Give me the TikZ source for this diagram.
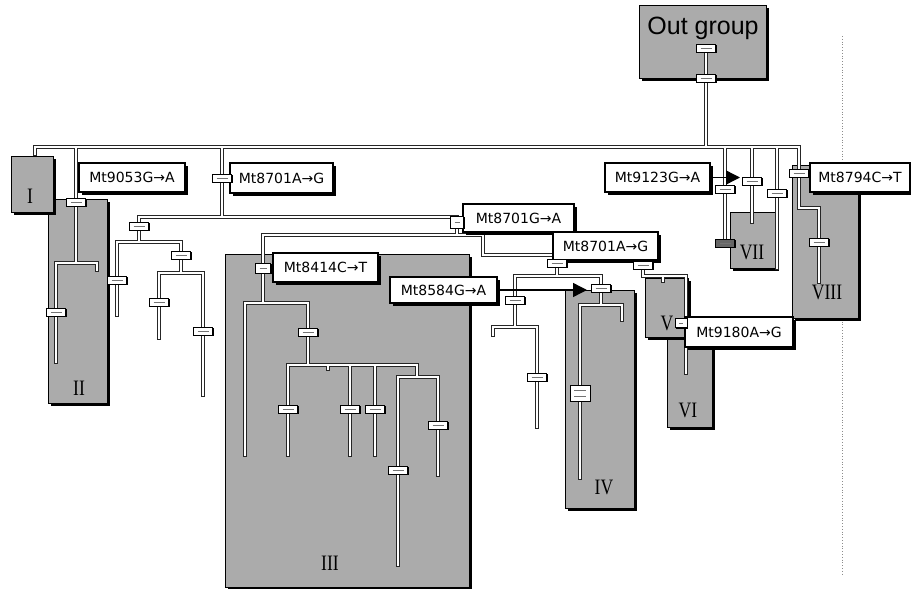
\documentclass[tikz,border=0pt]{standalone}
\usepackage{fontspec}
\setmainfont{Liberation Serif}
\newfontfamily\labfont{DejaVu Sans}
\newfontfamily\ogfont{Liberation Sans}
\usetikzlibrary{shadows,arrows.meta}
\newcommand\romanlab[1]{\scalebox{0.8}[1]{#1}}
\newcommand\treepipes[1]{%
 \draw[#1] (35,154) -- (35,147) -- (799,147) -- (tM) -- (799,208) -- (819,208) -- (tM2) -- (819,282);
 \draw[#1] (tOG1) -- (tOG2) -- (706,147);
 \draw[#1] (76,147) -- (tII1) -- (76,263);
 \draw[#1] (56,362) -- (tII2) -- (56,263) -- (97,263) -- (97,270);
 \draw[#1] (222,147) -- (tA) -- (222,217);
 \draw[#1] (139,217) -- (457,217) -- (tC) -- (457,235) -- (263,235) -- (tD) -- (263,303);
 \draw[#1] (457,235) -- (483,235) -- (483,255) -- (643,255) -- (tK) -- (643,276) -- (686,276) -- (686,373);
 \draw[#1] (663,276) -- (663,281);
 \draw[#1] (557,255) -- (tH) -- (557,276);
 \draw[#1] (515,276) -- (601,276);
 \draw[#1] (515,276) -- (tI) -- (515,327);
 \draw[#1] (493,335) -- (493,327) -- (537,327) -- (tI2) -- (537,427);
 \draw[#1] (601,276) -- (tJ) -- (601,305);
 \draw[#1] (622,320) -- (622,305) -- (580,305) -- (tJ2) -- (580,478);
 \draw[#1] (139,217) -- (tB) -- (139,242);
 \draw[#1] (117,315) -- (tB1) -- (117,242) -- (181,242) -- (tB2) -- (181,273);
 \draw[#1] (159,338) -- (tB3) -- (159,273) -- (203,273) -- (tB4) -- (203,395);
 \draw[#1] (245,455) -- (245,303) -- (308,303) -- (tE) -- (308,365);
 \draw[#1] (288,455) -- (tF1) -- (288,365) -- (417,365) -- (417,377);
 \draw[#1] (328,365) -- (328,369);
 \draw[#1] (350,365) -- (tF2) -- (350,455);
 \draw[#1] (375,365) -- (tF3) -- (375,455);
 \draw[#1] (398,565) -- (tG2) -- (398,377) -- (438,377) -- (tG1) -- (438,475);
 \draw[#1] (725,147) -- (tL1) -- (tL4);
 \draw[#1] (752,147) -- (tL2) -- (752,222);
 \draw[#1] (777,147) -- (tL3) -- (777,268);
}
\begin{document}
\begin{tikzpicture}[x=1pt,y=-1pt,
  group/.style={draw=black, line width=0.8pt, fill=black!33, inner sep=0pt, anchor=north west,
    drop shadow={shadow xshift=3pt, shadow yshift=-3pt, opacity=1, fill=black}},
  mut/.style={draw=black, line width=1.1pt, fill=white, inner sep=0pt,
    font=\labfont\fontsize{14}{16}\selectfont,
    drop shadow={shadow xshift=3pt, shadow yshift=-3pt, opacity=1, fill=black}},
  tag/.style={draw=black, line width=0.7pt, fill=white, inner sep=0pt,
    minimum width=19pt, minimum height=8pt,
    drop shadow={shadow xshift=1.3pt, shadow yshift=-1.3pt, opacity=1, fill=black},
    path picture={\draw[black!55, line width=0.9pt] ([xshift=4pt]path picture bounding box.west) -- ([xshift=-4pt]path picture bounding box.east);}},
  pipeout/.style={line width=4pt, draw=black!85, line cap=rect, line join=miter},
  pipein/.style={line width=1.5pt, draw=white, line cap=rect, line join=miter},
  roman/.style={font=\fontsize{22}{22}\selectfont, text=black, inner sep=0pt},
  arrowline/.style={line width=1.4pt, draw=black, -{Triangle[length=14pt,width=14pt]}}
]
\useasboundingbox (0,0) rectangle (911,589);
% faint dotted page line
\draw[dotted, black!45, line width=0.8pt] (842,36) coordinate (dtop) -- (842,574) coordinate (dbot);

% shaded groups
\node[group, minimum width=127pt, minimum height=73pt] (OG) at (639,5) {};
\node[group, minimum width=59pt, minimum height=204pt] (II) at (48,199) {};
\node[group, minimum width=42pt, minimum height=56pt] (I) at (11,156) {};
\node[group, minimum width=244pt, minimum height=333pt] (III) at (225,254) {};
\node[group, minimum width=69pt, minimum height=218pt] (IV) at (565,290) {};
\node[group, minimum width=45pt, minimum height=90pt] (VI) at (667,337) {};
\node[group, minimum width=43pt, minimum height=59pt] (V) at (645,278) {};
\node[group, minimum width=46pt, minimum height=56pt] (VII) at (730,212) {};
\node[group, minimum width=66pt, minimum height=153pt] (VIII) at (792,165) {};

% group labels
\node[font=\ogfont\fontsize{25}{27}\selectfont, inner sep=0pt] (ogtext) at (703,28) {Out group};
\node[roman] (nI) at (30,196) {\romanlab{I}};
\node[roman] (nII) at (79,388) {\romanlab{II}};
\node[roman] (nIII) at (330,563) {\romanlab{III}};
\node[roman] (nIV) at (604,487) {\romanlab{IV}};
\node[roman] (nV) at (667,323) {\romanlab{V}};
\node[roman] (nVI) at (688,410) {\romanlab{VI}};
\node[roman] (nVII) at (752,252) {\romanlab{VII}};
\node[roman] (nVIII) at (827,292) {\romanlab{VIII}};

% tag positions
\coordinate (tOG1) at (706,48);
\coordinate (tOG2) at (706,78);
\coordinate (tII1) at (76,202);
\coordinate (tII2) at (56,312);
\coordinate (tA) at (222,178);
\coordinate (tB) at (139,226);
\coordinate (tB1) at (117,280);
\coordinate (tB2) at (181,255);
\coordinate (tB3) at (159,302);
\coordinate (tB4) at (203,331);
\coordinate (tC) at (457,222);
\coordinate (tD) at (263,268);
\coordinate (tE) at (308,332);
\coordinate (tF1) at (288,409);
\coordinate (tF2) at (350,409);
\coordinate (tF3) at (375,409);
\coordinate (tG1) at (438,425);
\coordinate (tG2) at (398,470);
\coordinate (tH) at (557,263);
\coordinate (tI) at (515,300);
\coordinate (tI2) at (537,377);
\coordinate (tJ) at (601,288);
\coordinate (tJ2) at (580,393);
\coordinate (tK) at (643,265);
\coordinate (tK2) at (681,323);
\coordinate (tL1) at (725,189);
\coordinate (tL2) at (752,181);
\coordinate (tL3) at (777,193);
\coordinate (tL4) at (725,243);
\coordinate (tM) at (799,173);
\coordinate (tM2) at (819,242);

% tree branches (outline, then white core)
\treepipes{pipeout}
\treepipes{pipein}

% mutation boxes
\node[mut, minimum width=106pt, minimum height=29pt] (m9053) at (132,177.5) {Mt9053G→A};
\node[mut, minimum width=103pt, minimum height=30pt] (m8701a) at (281.5,178) {Mt8701A→G};
\node[mut, minimum width=111pt, minimum height=28pt] (m8701g) at (518.5,218) {Mt8701G→A};
\node[mut, minimum width=105pt, minimum height=29pt] (m8414) at (325.5,267.5) {Mt8414C→T};
\node[mut, minimum width=105pt, minimum height=28pt] (m8701b) at (605.5,246) {Mt8701A→G};
\node[mut, minimum width=107pt, minimum height=26pt] (m8584) at (443.5,290) {Mt8584G→A};
\node[mut, minimum width=105pt, minimum height=29pt] (m9123) at (657.5,177.5) {Mt9123G→A};
\node[mut, minimum width=100pt, minimum height=29pt] (m8794) at (860,177.5) {Mt8794C→T};
\node[mut, minimum width=108pt, minimum height=30pt] (m9180) at (739,332) {Mt9180A→G};

% arrows
\coordinate (tipVII) at (740,177.5);
\coordinate (tipIV) at (587,290);
\draw[arrowline] (m9123.east) -- (tipVII);
\draw[arrowline] (m8584.east) -- (tipIV);

% small tags
\foreach \t in {tOG1,tOG2,tII1,tII2,tA,tB,tB1,tB2,tB3,tB4,tE,tF1,tF2,tF3,tG1,tG2,tH,tI,tI2,tJ,tK,tL1,tL2,tL3,tM,tM2}
  \node[tag] (\t box) at (\t) {};
\node[tag, minimum width=13pt, minimum height=12pt] (tCbox) at (tC) {};
\node[tag, minimum width=15pt, minimum height=10pt] (tDbox) at (tD) {};
\node[tag, minimum width=20pt, minimum height=16pt,
  path picture={\draw[black!55, line width=0.9pt]
    ([xshift=4pt,yshift=3pt]path picture bounding box.west) -- ([xshift=-4pt,yshift=3pt]path picture bounding box.east)
    ([xshift=4pt,yshift=-3pt]path picture bounding box.west) -- ([xshift=-4pt,yshift=-3pt]path picture bounding box.east);}] (tJ2box) at (tJ2) {};
\node[tag, minimum width=12pt, minimum height=9pt] (tK2box) at (tK2) {};
\node[tag, fill=black!60] (tL4box) at (tL4) {};
\end{tikzpicture}
\end{document}
